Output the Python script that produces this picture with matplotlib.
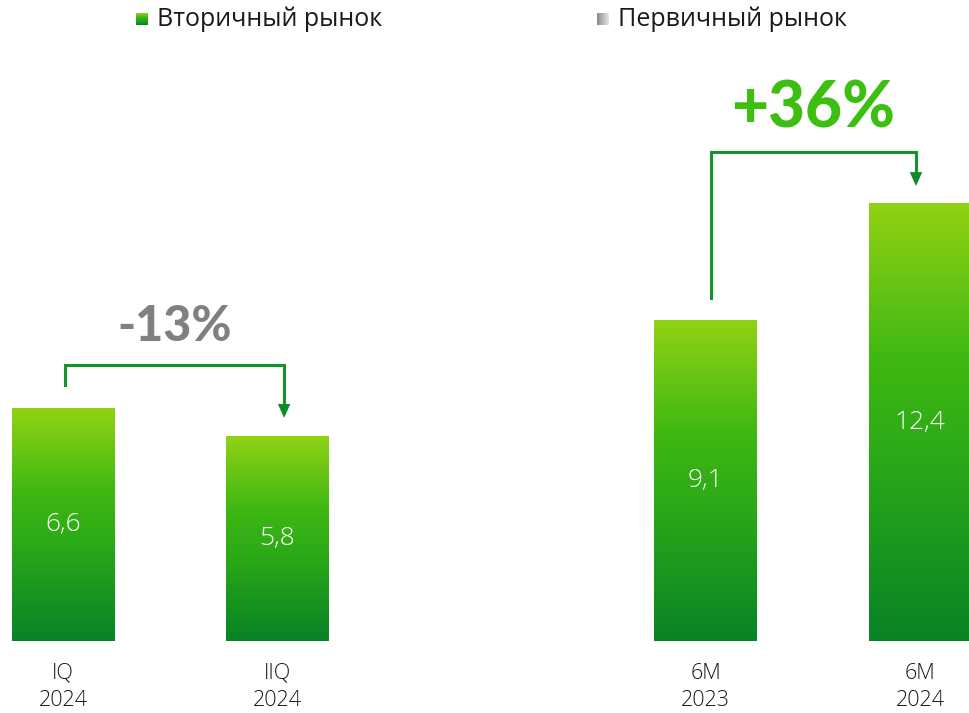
import matplotlib.pyplot as plt
import numpy as np
from matplotlib.colors import LinearSegmentedColormap
from matplotlib.patches import Rectangle

categories = ["IQ\n2024", "IIQ\n2024", "6M\n2023", "6M\n2024"]
values = [6.6, 5.8, 9.1, 12.4]
value_labels = ["6,6", "5,8", "9,1", "12,4"]
positions = [0, 1, 3, 4]
changes = ["-13%", "+36%"]
legend_names = ["Вторичный рынок", "Первичный рынок"]

FONT = ["Open Sans", "DejaVu Sans"]
BOLD = ["Lato", "DejaVu Sans"]

bar_cmap = LinearSegmentedColormap.from_list(
    "bars", [(0.0, "#088327"), (0.4, "#2aa818"), (0.65, "#40b812"), (1.0, "#92d215")])
gray_cmap = LinearSegmentedColormap.from_list("gray", ["#e6e6e6", "#8a8a8a"])
line_col = "#14942a"

fig = plt.figure(figsize=(9.7, 7.13), dpi=100)
ax = fig.add_axes([0, 0, 1, 1])
ax.set_xlim(-0.294, 4.233)
ax.set_ylim(-2.04, 18.16)
ax.axis("off")

width = 0.48
grad = np.linspace(0, 1, 256).reshape(-1, 1)
for x, v, lab, cat in zip(positions, values, value_labels, categories):
    ext = (x - width / 2, x + width / 2, 0, v)
    im = ax.imshow(grad, cmap=bar_cmap, origin="lower", extent=ext, aspect="auto", zorder=2)
    clip = Rectangle((ext[0], 0), width, v, transform=ax.transData)
    im.set_clip_path(clip)
    ax.text(x, v / 2, lab, ha="center", va="center", color="white", fontsize=19,
            family=FONT, fontweight="light", zorder=3)
    ax.text(x, -0.62, cat, ha="center", va="top", color="#1a1a1a", fontsize=15.5,
            family=FONT, fontweight="light", linespacing=1.4)


def bracket(x0, x1, y_start, y_top, y_end, label, color, size, y_label):
    ax.plot([x0, x0, x1, x1], [y_start, y_top, y_top, y_end + 0.3], color=line_col,
            lw=2.2, solid_joinstyle="miter", zorder=4)
    ax.annotate("", xy=(x1, y_end), xytext=(x1, y_end + 0.45),
                arrowprops=dict(arrowstyle="-|>,head_width=0.45,head_length=1.0",
                                color="#0e8a26", lw=0, shrinkA=0, shrinkB=0), zorder=4)
    ax.text((x0 + x1) / 2, y_label, label, ha="center", va="center", color=color,
            fontsize=size, family=BOLD, fontweight="black")


bracket(0.009, 1.032, 7.25, 7.82, 6.32, changes[0], "#808080", 35, 8.9)
bracket(3.025, 3.981, 9.72, 13.85, 12.89, changes[1], "#3dbf12", 46, 15.07)

# legend
sq = np.linspace(0, 1, 32).reshape(-1, 1)
fig_w, fig_h = 970, 713
for (px, name, cmap) in [(136, legend_names[0], bar_cmap), (597, legend_names[1], gray_cmap)]:
    lax = fig.add_axes([px / fig_w, 1 - 25 / fig_h, 12 / fig_w, 12 / fig_h])
    lax.imshow(sq if cmap is bar_cmap else np.fliplr(sq.T), cmap=cmap, origin="lower", aspect="auto")
    lax.axis("off")
    fig.text((px + 21) / fig_w, 1 - 19 / fig_h, name, ha="left", va="center",
             fontsize=18, family=FONT, color="#1a1a1a")

fig.savefig("out.png", dpi=100)
